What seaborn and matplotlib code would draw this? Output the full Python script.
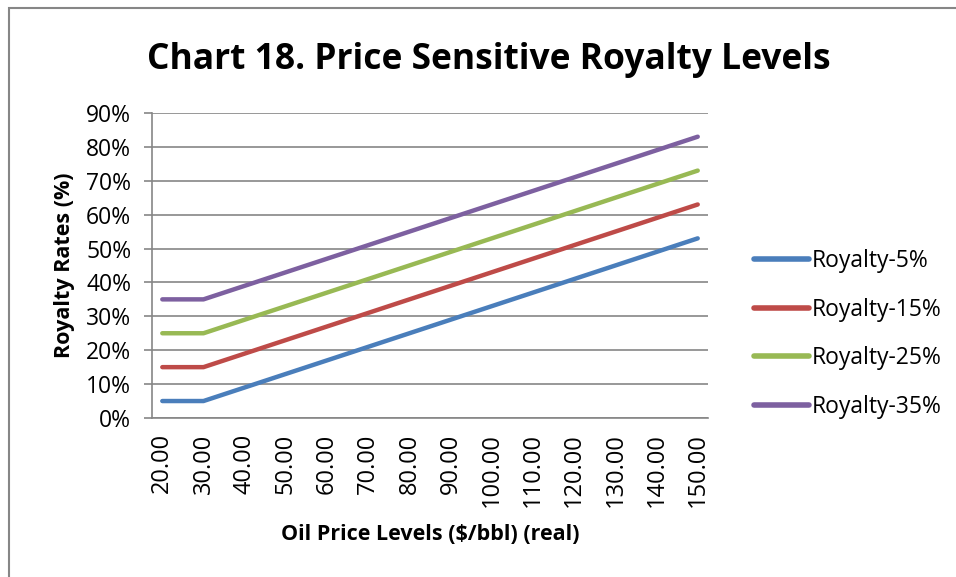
import numpy as np
import pandas as pd
import matplotlib
matplotlib.use("Agg")
import matplotlib.pyplot as plt
import seaborn as sns

# oil price categories ($/bbl, real)
prices = [20, 25, 30, 35, 40, 45, 50, 55, 60, 65, 70, 75, 80, 85, 90,
          95, 100, 105, 110, 115, 120, 125, 130, 135, 140, 145, 150]

# royalty rates (%)
royalty_5 = [5, 5, 5, 7, 9, 11, 13, 15, 17, 19, 21, 23, 25, 27, 29,
             31, 33, 35, 37, 39, 41, 43, 45, 47, 49, 51, 53]
royalty_15 = [15, 15, 15, 17, 19, 21, 23, 25, 27, 29, 31, 33, 35, 37, 39,
              41, 43, 45, 47, 49, 51, 53, 55, 57, 59, 61, 63]
royalty_25 = [25, 25, 25, 27, 29, 31, 33, 35, 37, 39, 41, 43, 45, 47, 49,
              51, 53, 55, 57, 59, 61, 63, 65, 67, 69, 71, 73]
royalty_35 = [35, 35, 35, 37, 39, 41, 43, 45, 47, 49, 51, 53, 55, 57, 59,
              61, 63, 65, 67, 69, 71, 73, 75, 77, 79, 81, 83]

series_names = ["Royalty-5%", "Royalty-15%", "Royalty-25%", "Royalty-35%"]
series_vals = [royalty_5, royalty_15, royalty_25, royalty_35]
colors = ["#4A7EBB", "#BE4B48", "#98B954", "#7D60A0"]

price_labels = [f"{p:.2f}" for p in prices]

rows = []
for name, vals in zip(series_names, series_vals):
    for lab, v in zip(price_labels, vals):
        rows.append({"price": lab, "rate": v / 100, "series": name})
df = pd.DataFrame(rows)

sns.set_style("white")
plt.rcParams["font.family"] = ["Open Sans", "DejaVu Sans"]
plt.rcParams["text.color"] = "black"
plt.rcParams["xtick.color"] = "black"
plt.rcParams["ytick.color"] = "black"
plt.rcParams["axes.labelcolor"] = "black"

fig = plt.figure(figsize=(9.56, 5.77), dpi=100)
ax = fig.add_axes([0.159, 0.2756, 0.5816, 0.5286])

sns.lineplot(data=df, x="price", y="rate", hue="series", palette=colors,
             linewidth=3.2, sort=False, ax=ax, solid_capstyle="round")

n = len(prices)
ax.set_xlim(-0.5, n - 0.5)
ax.set_ylim(0, 0.9)
yt = np.arange(0, 0.91, 0.1)
ax.set_yticks(yt)
ax.set_yticklabels([f"{int(round(t * 100))}%" for t in yt])
ax.yaxis.grid(True, color="#868686", linewidth=1.2)
ax.xaxis.grid(False)

# labels on every other category, tick marks on category boundaries
ax.set_xticks(range(0, n, 2))
ax.set_xticklabels(price_labels[::2], rotation=90)
ax.set_xticks(np.arange(-0.5, n, 1), minor=True)
ax.tick_params(axis="x", which="major", length=0, pad=11, labelsize=17)
ax.tick_params(axis="x", which="minor", length=6, width=1.2, color="#868686", direction="out")
ax.tick_params(axis="y", which="major", length=6, width=1.2, color="#868686",
               labelcolor="black", direction="out", labelsize=16.5, left=True, pad=9)

for side in ["top", "right"]:
    ax.spines[side].set_visible(False)
for side in ["left", "bottom"]:
    ax.spines[side].set_color("#868686")
    ax.spines[side].set_linewidth(1.2)

ax.set_xlabel("Oil Price Levels ($/bbl) (real)", fontsize=15.5, fontweight="bold", labelpad=12)
ax.set_ylabel("Royalty Rates (%)", fontsize=15.5, fontweight="bold", labelpad=8)

fig.suptitle("Chart 18. Price Sensitive Royalty Levels", x=0.511, y=0.927,
             fontsize=25.5, fontweight="bold")

leg = ax.legend(loc="center left", bbox_to_anchor=(1.045, 0.275), frameon=False,
                fontsize=16.5, handlelength=2.4, handletextpad=0.15, labelspacing=1.07)
for line in leg.get_lines():
    line.set_linewidth(4)

# chart border
fig.patches.append(plt.Rectangle((0.009, -0.05), 1.2, 1.036, transform=fig.transFigure,
                                 fill=False, edgecolor="#868686", linewidth=1.5))

fig.savefig("out.png", dpi=100)
